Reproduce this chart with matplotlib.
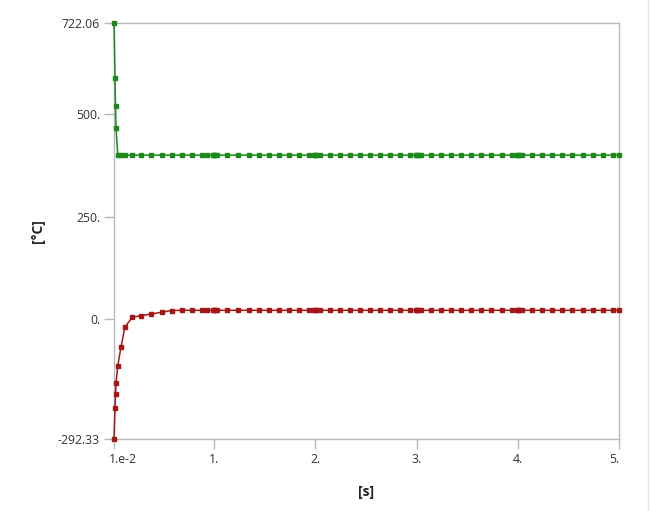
import matplotlib
matplotlib.use("Agg")
import matplotlib.pyplot as plt
from matplotlib.lines import Line2D
from matplotlib.transforms import ScaledTranslation

# time steps [s]
time_s = [0.01, 0.02, 0.025, 0.03, 0.047, 0.08, 0.117, 0.19, 0.28, 0.38, 0.48, 0.58,
          0.68, 0.78, 0.88, 0.93, 0.99, 1.0, 1.01, 1.03, 1.13, 1.24, 1.34, 1.44, 1.54,
          1.64, 1.74, 1.84, 1.94, 1.99, 2.0, 2.01, 2.05, 2.14, 2.24, 2.34, 2.44, 2.54,
          2.64, 2.74, 2.84, 2.93, 2.99, 3.0, 3.01, 3.04, 3.14, 3.24, 3.34, 3.44, 3.54,
          3.64, 3.74, 3.84, 3.94, 3.99, 4.0, 4.01, 4.04, 4.14, 4.24, 4.34, 4.44, 4.54,
          4.64, 4.74, 4.84, 4.94, 5.0]

# maximum temperature [°C]
temp_max = [722.06, 587.0, 520.0, 466.0, 400.0] + [400.0] * 64

# minimum temperature [°C]
temp_min = [-292.33, -216.7, -183.3, -156.5, -113.5, -67.3, -19.9, 4.5, 8.4, 12.6,
            16.7, 21.0] + [21.5] * 57

x_ticks = [0.01, 1, 2, 3, 4, 5]
x_labels = ["1.e-2", "1.", "2.", "3.", "4.", "5."]
y_ticks = [-292.33, 0, 250, 500, 722.06]
y_labels = ["-292.33", "0.", "250.", "500.", "722.06"]

plt.rcParams["font.family"] = ["Open Sans", "DejaVu Sans"]

fig = plt.figure(figsize=(6.5, 5.11), dpi=100)
ax = fig.add_axes([114 / 650, 1 - 439 / 511, 505 / 650, 416 / 511])

ax.plot(time_s, temp_max, color="#1b8a1b", lw=1.1, marker="s", ms=2.3,
        mec="#1b8a1b", mfc="#1b8a1b", clip_on=False, zorder=3)
ax.plot(time_s, temp_min, color="#a51717", lw=1.1, marker="s", ms=2.3,
        mec="#a51717", mfc="#a51717", clip_on=False, zorder=3)

ax.set_xlim(0.01, 5)
ax.set_ylim(-292.33, 722.06)
ax.set_xticks(x_ticks)
ax.set_xticklabels(x_labels)
ax.set_yticks(y_ticks)
ax.set_yticklabels(y_labels)

grey = "#b8b8b8"
for s in ax.spines.values():
    s.set_color(grey)
    s.set_linewidth(1.0)
ax.tick_params(axis="both", color=grey, length=7, width=1.0, labelsize=8.8,
               labelcolor="#333333", pad=3)

# end labels stay inside the axis span
xl = ax.get_xticklabels()
xl[0].set_transform(xl[0].get_transform() + ScaledTranslation(0.09, 0, fig.dpi_scale_trans))
xl[-1].set_horizontalalignment("right")

ax.set_xlabel("[s]", fontsize=10, fontweight="bold", color="#222222", labelpad=14)
ax.set_ylabel("[°C]", fontsize=10, fontweight="bold", color="#222222", labelpad=9)

# faint panel border on the right edge
fig.add_artist(Line2D([648 / 650, 648 / 650], [0, 1], color="#e6e6e6", lw=1.0,
                      transform=fig.transFigure))

fig.savefig("out.png", dpi=100)
